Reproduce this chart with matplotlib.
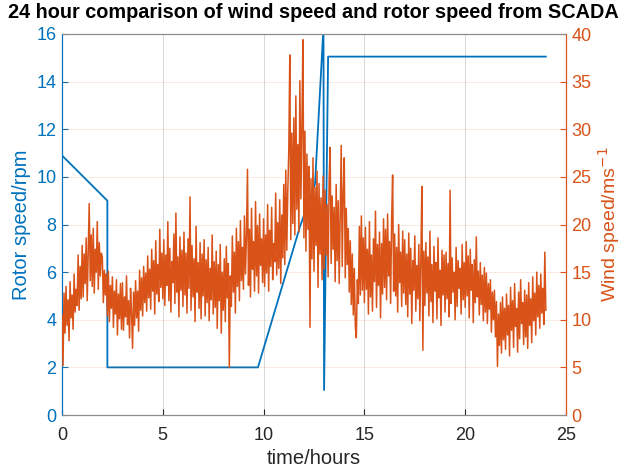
import numpy as np
import matplotlib
matplotlib.use("Agg")
import matplotlib.pyplot as plt

plt.rcParams['font.family'] = ['Liberation Sans', 'DejaVu Sans']

# Rotor speed (rpm) vs time (hours)
rotor_t = [0.0, 2.25, 2.25, 9.72, 11.8, 12.55, 12.97, 13.0, 13.2, 24.0]
rotor_rpm = [10.9, 9.0, 2.0, 2.0, 7.9, 9.7, 16.3, 1.05, 15.05, 15.05]

# Wind speed (m/s), sampled every 0.05 h from 0 to 24 h
wind_h00 = [10.5, 5.2, 12.8, 8.6, 13.5, 9.4, 12.1, 7.8, 14.0, 10.2, 12.6, 9.0, 14.8, 10.8, 13.2, 11.5, 16.8, 11.0, 15.6, 12.2]
wind_h01 = [17.8, 12.4, 16.9, 13.8, 18.6, 12.0, 17.2, 22.2, 14.1, 18.9, 13.5, 19.6, 12.8, 17.4, 15.0, 20.3, 13.2, 18.1, 14.6, 17.0]
wind_h02 = [16.6, 11.8, 15.2, 12.6, 14.8, 10.4, 15.1, 9.8, 13.6, 11.2, 14.5, 9.2, 13.0, 10.6, 14.2, 8.4, 12.7, 10.1, 13.8, 9.0]
wind_h03 = [13.9, 8.9, 12.4, 10.3, 14.6, 9.5, 12.0, 8.1, 13.3, 10.7, 7.0, 12.9, 9.4, 14.1, 10.2, 13.0, 8.8, 15.2, 11.0, 14.4]
wind_h04 = [10.4, 15.6, 11.8, 14.9, 10.9, 16.7, 12.3, 15.3, 11.1, 17.4, 13.0, 16.2, 10.6, 18.3, 12.7, 15.8, 11.9, 19.5, 13.4, 17.0]
wind_h05 = [12.2, 18.4, 11.5, 16.8, 13.6, 20.3, 12.0, 17.5, 10.8, 16.1, 13.9, 19.0, 11.7, 21.2, 12.9, 16.6, 10.3, 18.7, 13.1, 17.3]
wind_h06 = [11.4, 19.2, 12.6, 17.0, 10.7, 18.5, 13.3, 22.9, 11.0, 17.8, 12.4, 16.4, 9.8, 19.8, 12.9, 16.0, 11.2, 18.1, 10.1, 16.9]
wind_h07 = [12.5, 18.4, 10.4, 16.3, 11.8, 17.6, 9.9, 15.4, 12.1, 18.9, 10.6, 16.1, 11.3, 17.2, 9.1, 15.8, 12.0, 17.9, 8.6, 15.0]
wind_h08 = [11.0, 16.4, 9.8, 17.7, 12.3, 15.9, 5.0, 14.6, 11.4, 18.8, 12.9, 17.1, 10.7, 19.6, 13.5, 18.2, 12.0, 20.4, 14.1, 17.6]
wind_h09 = [13.2, 20.9, 14.8, 18.7, 25.8, 13.6, 19.5, 12.4, 21.7, 15.3, 18.2, 13.0, 22.4, 14.6, 19.9, 12.8, 21.1, 15.7, 18.5, 13.9]
wind_h10 = [20.6, 13.5, 18.9, 14.9, 22.1, 13.0, 19.4, 15.6, 21.8, 14.2, 18.0, 16.1, 23.3, 14.7, 20.2, 15.4, 22.6, 13.8, 21.0, 16.5]
wind_h11 = [24.2, 15.8, 25.7, 17.3, 23.5, 27.8, 37.8, 18.4, 29.6, 20.1, 31.2, 18.9, 33.5, 21.6, 28.4, 19.2, 35.1, 22.7, 30.3, 39.4]
wind_h12 = [18.6, 29.8, 17.2, 27.4, 19.5, 26.1, 9.2, 24.8, 16.4, 27.0, 15.1, 23.9, 17.8, 25.6, 13.4, 24.3, 16.9, 22.8, 14.2, 25.1]
wind_h13 = [15.3, 23.6, 16.8, 22.1, 14.5, 24.7, 28.1, 15.9, 23.0, 17.4, 21.8, 14.0, 24.2, 16.2, 22.5, 13.8, 20.9, 28.3, 15.6, 23.4]
wind_h14 = [27.0, 14.4, 21.7, 15.8, 19.6, 12.9, 18.3, 11.6, 16.9, 10.5, 15.4, 9.3, 8.1, 14.2, 11.7, 19.8, 12.6, 20.9, 13.1, 18.6]
wind_h15 = [11.8, 19.7, 13.2, 17.4, 10.6, 20.3, 12.4, 16.8, 10.9, 18.5, 14.0, 21.4, 11.3, 17.9, 13.6, 19.2, 10.2, 18.0, 12.7, 20.6]
wind_h16 = [13.4, 19.5, 12.1, 21.1, 14.6, 18.2, 11.7, 20.4, 25.2, 13.0, 19.0, 12.5, 17.6, 10.8, 20.0, 13.9, 17.1, 11.4, 19.3, 12.8]
wind_h17 = [18.4, 11.6, 16.9, 10.3, 19.1, 12.7, 17.5, 9.6, 16.2, 13.1, 18.8, 10.9, 15.7, 12.2, 17.9, 9.9, 16.4, 24.0, 6.8, 17.2]
wind_h18 = [11.5, 18.1, 12.8, 16.6, 10.4, 19.3, 11.9, 15.8, 9.7, 17.7, 13.0, 16.0, 10.1, 18.6, 12.3, 15.2, 9.4, 17.3, 12.6, 16.8]
wind_h19 = [10.8, 17.1, 12.2, 15.9, 10.3, 23.6, 11.7, 16.5, 12.9, 15.0, 10.0, 17.6, 11.4, 16.2, 13.3, 15.4, 10.6, 17.9, 12.1, 16.0]
wind_h20 = [11.3, 18.2, 12.5, 16.7, 10.2, 17.4, 13.1, 15.8, 9.7, 16.3, 11.8, 18.7, 12.4, 15.1, 10.5, 16.0, 11.6, 14.7, 9.9, 15.5]
wind_h21 = [10.8, 14.9, 9.6, 13.8, 11.1, 14.2, 8.7, 12.9, 10.0, 13.1, 8.2, 11.9, 5.1, 10.6, 7.3, 11.8, 6.5, 12.4, 7.9, 11.2]
wind_h22 = [6.9, 12.7, 8.4, 11.5, 6.2, 13.4, 8.9, 12.0, 7.1, 13.8, 9.3, 11.2, 6.6, 12.9, 8.0, 14.2, 9.6, 11.8, 7.4, 13.1]
wind_h23 = [8.2, 12.6, 7.0, 13.9, 9.4, 12.2, 7.6, 14.5, 9.9, 12.8, 8.4, 15.0, 10.3, 13.6, 9.1, 14.8, 10.7, 13.3, 9.5, 17.1]
wind_end = [11.0]

wind = (wind_h00 + wind_h01 + wind_h02 + wind_h03 + wind_h04 + wind_h05 + wind_h06 +
        wind_h07 + wind_h08 + wind_h09 + wind_h10 + wind_h11 + wind_h12 + wind_h13 +
        wind_h14 + wind_h15 + wind_h16 + wind_h17 + wind_h18 + wind_h19 + wind_h20 +
        wind_h21 + wind_h22 + wind_h23 + wind_end)
wind_t = np.linspace(0, 24, len(wind))

x_ticks = [0, 5, 10, 15, 20, 25]
left_ticks = [0, 2, 4, 6, 8, 10, 12, 14, 16]
right_ticks = [0, 5, 10, 15, 20, 25, 30, 35, 40]

BLUE = '#0072BD'
ORANGE = '#D95319'
DARK = '#262626'

fig = plt.figure(figsize=(6.24, 4.71), dpi=100)
ax1 = fig.add_axes([62/624, 1 - 415/471, (566 - 62)/624, (415 - 34)/471])
ax2 = ax1.twinx()

ax1.plot(rotor_t, rotor_rpm, color=BLUE, lw=1.3, zorder=2)
ax2.plot(wind_t, wind, color=ORANGE, lw=1.1, zorder=3)

ax1.set_xlim(0, 25)
ax1.set_ylim(0, 16)
ax2.set_ylim(0, 40)
ax1.set_xticks(x_ticks)
ax1.set_yticks(left_ticks)
ax2.set_yticks(right_ticks)

# grids
for xv in x_ticks[1:-1]:
    ax1.axvline(xv, color='#b0b0b0', lw=0.6, alpha=0.6, zorder=0)
for yv in right_ticks[1:-1]:
    ax2.axhline(yv, color=ORANGE, lw=0.6, alpha=0.15, zorder=0)

fs = 13
ax1.tick_params(axis='x', direction='in', length=4, colors=DARK, labelsize=fs, pad=9, top=False)
ax1.tick_params(axis='y', direction='in', length=4, colors=BLUE, labelsize=fs, pad=4)
ax2.tick_params(axis='y', direction='in', length=4, colors=ORANGE, labelsize=fs, pad=4)

for sp in ['top', 'bottom']:
    ax1.spines[sp].set_color('#8c8c8c')
    ax2.spines[sp].set_color('#8c8c8c')
ax1.spines['left'].set_color(BLUE)
ax2.spines['left'].set_color(BLUE)
ax2.spines['right'].set_color(ORANGE)
ax1.spines['right'].set_color(ORANGE)
for sp in ax1.spines.values():
    sp.set_linewidth(0.8)
for sp in ax2.spines.values():
    sp.set_linewidth(0.8)

ax1.set_xlabel('time/hours', fontsize=14.5, color=DARK, labelpad=3)
ax1.set_ylabel('Rotor speed/rpm', fontsize=14.5, color=BLUE, labelpad=4)
ax2.set_ylabel('Wind speed/ms$^{-1}$', fontsize=14, color=ORANGE, labelpad=3)
fig.text(313/624, 1 - 12.5/471,
         '24 hour comparison of wind speed and rotor speed from SCADA',
         fontsize=14.3, fontweight='bold', color='black', ha='center', va='center')

fig.savefig('out.png', dpi=100)
